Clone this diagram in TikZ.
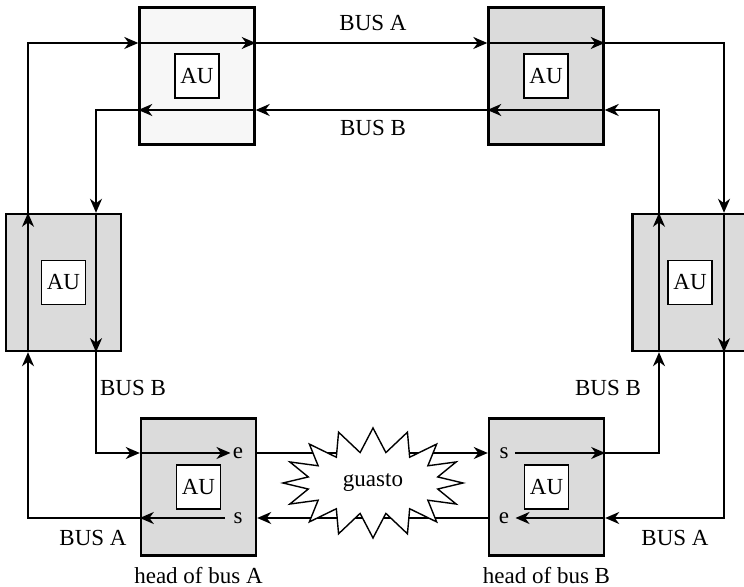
\documentclass[tikz,border=0pt]{standalone}
\usepackage{fontspec}
\setmainfont{Liberation Serif}
\usetikzlibrary{arrows.meta,positioning,shapes.symbols}
\tikzset{
    stn/.style={rectangle, draw, fill=#1, line width=1.2pt, minimum width=57.5pt,
                minimum height=68.5pt, inner sep=0pt},
    stn/.default={black!14},
    au/.style={rectangle, draw, fill=white, line width=0.7pt, minimum size=22pt,
               inner sep=0pt},
    port/.style={inner sep=1pt},
    lbl/.style={inner sep=1pt},
    bus/.style={-{Stealth[length=7pt,width=6pt,inset=2.2pt]}, line width=0.9pt},
    burst/.style={starburst, draw, fill=white, line width=0.7pt, starburst points=16,
                  starburst point height=12pt, random starburst=0,
                  minimum width=90pt, minimum height=55pt, inner sep=1pt},
}

\begin{document}
\begin{tikzpicture}[x=0.5pt, y=0.5pt, font=\fontsize{11.5}{13.8}\selectfont]
    \clip (0,0) rectangle (744,587);

    % stations
    \node[stn=black!3] (tl) at (197,511) {};
    \node[stn] (tr) at (546,511) {};
    \node[stn] (l) at (63.5,304.5) {};
    \node[stn] (r) at (690,304.5) {};
    \node[stn] (bl) at (198.5,100) {};
    \node[stn] (br) at (546.5,100) {};
    \foreach \s in {tl,tr,l,r,bl,br}
        \node[au] (au-\s) at (\s) {AU};

    % bus tracks
    \coordinate (xA1) at (28,0);
    \coordinate (xB1) at (96,0);
    \coordinate (xB2) at (659,0);
    \coordinate (xA2) at (724,0);
    \coordinate (yA1) at (0,544);
    \coordinate (yB1) at (0,477);
    \coordinate (yB2) at (0,134);
    \coordinate (yA2) at (0,69);

    \node[port] (blE) at (238,134) {e};
    \node[port] (blS) at (238,69) {s};
    \node[port] (brS) at (504,134) {s};
    \node[port] (brE) at (504,69) {e};

    % bus A
    \draw[bus] ([xshift=-3pt]blS.west) -- (bl.west |- yA2);
    \draw[bus] (bl.west |- yA2) -| (xA1 |- l.south);
    \draw[bus] (xA1 |- l.south) -- (xA1 |- l.north);
    \draw[bus] (xA1 |- l.north) |- (tl.west |- yA1);
    \draw[bus] (tl.west |- yA1) -- (tl.east |- yA1);
    \draw[bus] (tl.east |- yA1) -- (tr.west |- yA1);
    \draw[bus] (tr.west |- yA1) -- (tr.east |- yA1);
    \draw[bus] (tr.east |- yA1) -| (xA2 |- r.north);
    \draw[bus] (xA2 |- r.north) -- (xA2 |- r.south);
    \draw[bus] (xA2 |- r.south) |- (br.east |- yA2);
    \draw[bus] (br.east |- yA2) -- ([xshift=2pt]brE.east);
    \draw[bus] (br.west |- yA2) -- (bl.east |- yA2);

    % bus B
    \draw[bus] (bl.west |- yB2) -- (blE.west);
    \draw[bus] (bl.east |- yB2) -- (br.west |- yB2);
    \draw[bus] ([xshift=2pt]brS.east) -- (br.east |- yB2);
    \draw[bus] (br.east |- yB2) -| (xB2 |- r.south);
    \draw[bus] (xB2 |- r.south) -- (xB2 |- r.north);
    \draw[bus] (xB2 |- r.north) |- (tr.east |- yB1);
    \draw[bus] (tr.east |- yB1) -- (tr.west |- yB1);
    \draw[bus] (tr.west |- yB1) -- (tl.east |- yB1);
    \draw[bus] (tl.east |- yB1) -- (tl.west |- yB1);
    \draw[bus] (tl.west |- yB1) -| (xB1 |- l.north);
    \draw[bus] (xB1 |- l.north) -- (xB1 |- l.south);
    \draw[bus] (xB1 |- l.south) |- (bl.west |- yB2);

    \node[burst] (guasto) at (373,104) {guasto};

    % labels
    \node[lbl] (busA-top) at (373,564) {BUS A};
    \node[lbl] (busB-top) at (373,459) {BUS B};
    \node[lbl] (busB-l) at (133,199) {BUS B};
    \node[lbl] (busB-r) at (608,199) {BUS B};
    \node[lbl] (busA-l) at (93,49) {BUS A};
    \node[lbl] (busA-r) at (675,49) {BUS A};
    \node[lbl, below=4pt of bl] (headA) {head of bus A};
    \node[lbl, below=4pt of br] (headB) {head of bus B};
\end{tikzpicture}
\end{document}
